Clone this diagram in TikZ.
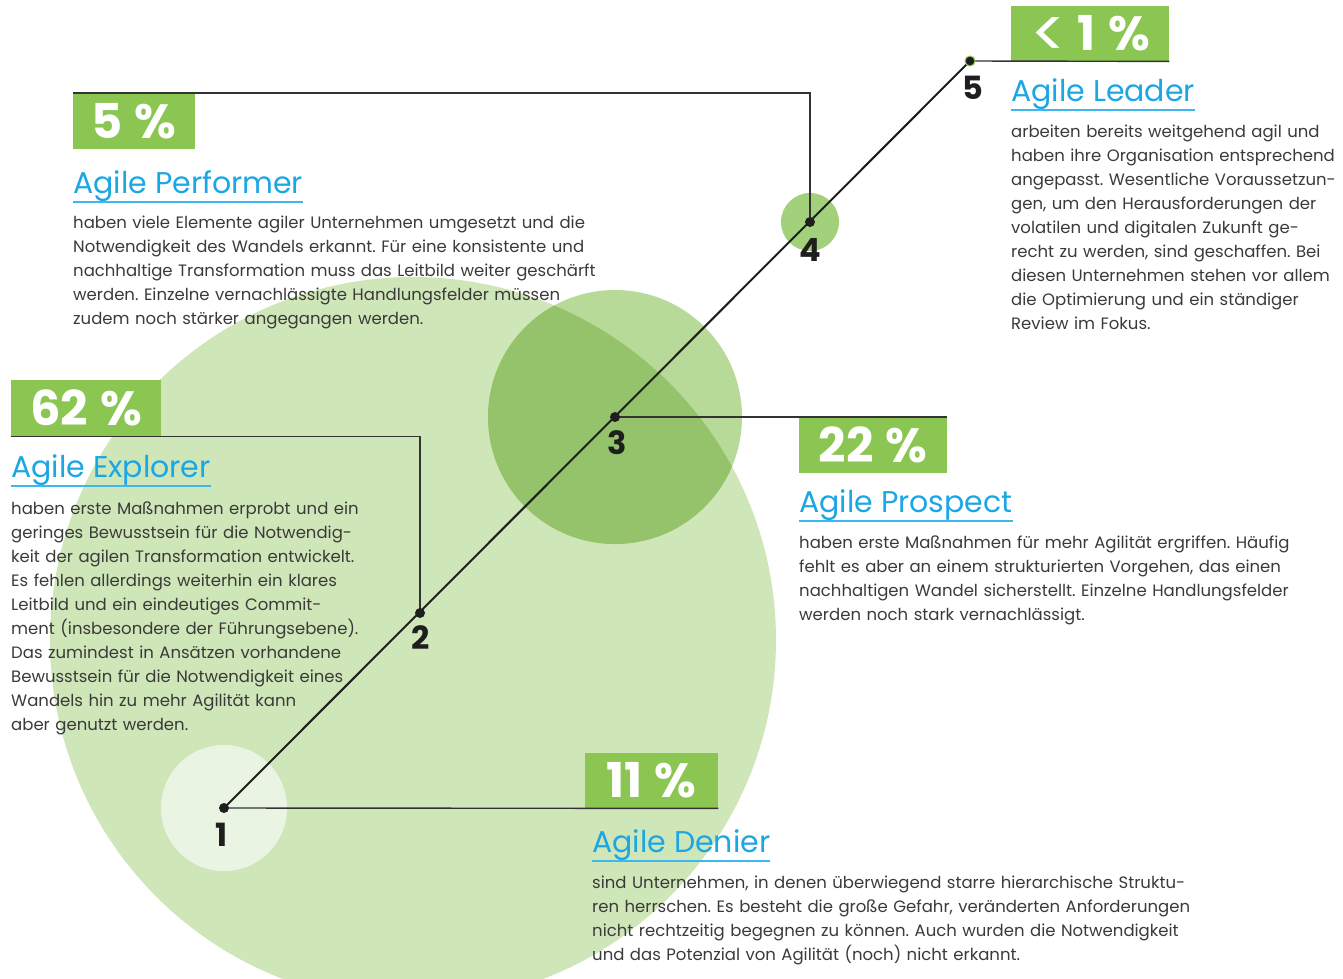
\documentclass[tikz,border=0pt]{standalone}
\usepackage{fontspec}
\usepackage{graphicx}
\setmainfont{Poppins}
\definecolor{bigc}{HTML}{CFE6B9}
\definecolor{midc}{HTML}{B8DA98}
\definecolor{ovc}{HTML}{95C36C}
\definecolor{cone}{HTML}{EAF4E2}
\definecolor{cfour}{HTML}{A3D07A}
\definecolor{boxgreen}{HTML}{8BC653}
\definecolor{titleblue}{HTML}{1BA6E4}
\definecolor{ulblue}{HTML}{3DB8EE}
\definecolor{bodygray}{HTML}{3A3A3A}
\definecolor{numblack}{HTML}{1E1E1E}
\definecolor{lineg}{HTML}{333333}
\frenchspacing
\begin{document}
\begin{tikzpicture}[x=1pt,y=-1pt,
  body/.style={anchor=base west, align=left, inner sep=0pt, text width=620pt, text=bodygray, font=\frenchspacing\fontsize{16.5}{24}\selectfont},
  title/.style={anchor=base west, inner sep=0pt, text=titleblue, font=\fontsize{30}{36}\selectfont},
  uline/.style={draw=ulblue, line width=1.5pt},
  pct/.style={anchor=north west, fill=boxgreen, text=white, inner sep=0pt, font=\bfseries\fontsize{48}{50}\selectfont},
  num/.style={text=numblack, font=\bfseries\fontsize{32}{32}\selectfont, inner sep=0pt},
  conn/.style={draw=lineg, line width=1.4pt},
  diag/.style={draw=numblack, line width=2pt},
  dot/.style={circle, fill=numblack, inner sep=0pt, minimum size=10pt}
]
\useasboundingbox (0,0) rectangle (1343,978);
% circles
\fill[bigc] (413,640) circle (363);
\fill[midc] (615,417) circle (127);
\begin{scope}
  \clip (413,640) circle (363);
  \fill[ovc] (615,417) circle (127);
\end{scope}
\fill[cone] (224,808) circle (63);
\fill[cfour] (810,222) circle (29);

% stage points
\coordinate (p1) at (224,808);
\coordinate (p2) at (420,613);
\coordinate (p3) at (615,417);
\coordinate (p4) at (810,222);
\coordinate (p5) at (970,61);

% percentage boxes
\node[pct, minimum width=122pt, minimum height=56pt] (b5) at (73,93) {5\hspace{12pt}\%};
\node[pct, minimum width=150pt, minimum height=56pt] (b62) at (11,380) {62\hspace{12pt}\%};
\node[pct, minimum width=148pt, minimum height=56pt] (b22) at (799,417) {22\hspace{12pt}\%};
\node[pct, minimum width=133pt, minimum height=55pt] (b11) at (585,753) {11\hspace{12pt}\%};
\node[pct, minimum width=158pt, minimum height=55pt] (b1) at (1011,6) {\smash{\raisebox{-7pt}{\mdseries\scalebox{1.4}{<}}}\hspace{10pt}1\hspace{12pt}\%};

% connectors
\draw[conn] (p1) -- (b11.south east);
\draw[conn] (p2) |- (b62.south west);
\draw[conn] (p3) -- (b22.north east);
\draw[conn] (p4) |- (b5.north west);
\draw[conn] (p5) -- (b1.south east);
\draw[diag] (p1) -- (p5);

% dots
\node[dot] (d1) at (p1) {};
\node[dot] (d2) at (p2) {};
\node[dot] (d3) at (p3) {};
\node[dot] (d4) at (p4) {};
\node[dot, draw=boxgreen, line width=1pt] (d5) at (p5) {};

% numbers
\node[num] (n1) at (222,835) {1};
\node[num] (n2) at (421,638) {2};
\node[num] (n3) at (617,443) {3};
\node[num] (n4) at (810,250) {4};
\node[num] (n5) at (973,88) {5};

% titles
\node[title] (t5) at (73,193) {Agile Performer};
\node[title] (t62) at (11,477) {Agile Explorer};
\node[title] (t22) at (799,512) {Agile Prospect};
\node[title] (t11) at (592,852) {Agile Denier};
\node[title] (t1) at (1011,101) {Agile Leader};
\foreach \t in {t5,t62,t22,t11,t1}{
  \draw[uline] ([yshift=-9pt]\t.base west) -- ([yshift=-9pt]\t.base east);
}

% body texts
\node[body] (x5) at (73,228) {haben viele Elemente agiler Unternehmen umgesetzt und die\\
Notwendigkeit des Wandels erkannt. Für eine konsistente und\\
nachhaltige Transformation muss das Leitbild weiter geschärft\\
werden. Einzelne vernachlässigte Handlungsfelder müssen\\
zudem noch stärker angegangen werden.};
\node[body] (x62) at (11,514) {haben erste Maßnahmen erprobt und ein\\
geringes Bewusstsein für die Notwendig-\\
keit der agilen Transformation entwickelt.\\
Es fehlen allerdings weiterhin ein klares\\
Leitbild und ein eindeutiges Commit-\\
ment (insbesondere der Führungsebene).\\
Das zumindest in Ansätzen vorhandene\\
Bewusstsein für die Notwendigkeit eines\\
Wandels hin zu mehr Agilität kann\\
aber genutzt werden.};
\node[body] (x22) at (799,548) {haben erste Maßnahmen für mehr Agilität ergriffen. Häufig\\
fehlt es aber an einem strukturierten Vorgehen, das einen\\
nachhaltigen Wandel sicherstellt. Einzelne Handlungsfelder\\
werden noch stark vernachlässigt.};
\node[body] (x11) at (592,888) {sind Unternehmen, in denen überwiegend starre hierarchische Struktu-\\
ren herrschen. Es besteht die große Gefahr, veränderten Anforderungen\\
nicht rechtzeitig begegnen zu können. Auch wurden die Notwendigkeit\\
und das Potenzial von Agilität (noch) nicht erkannt.};
\node[body] (x1) at (1011,137) {arbeiten bereits weitgehend agil und\\
haben ihre Organisation entsprechend\\
angepasst. Wesentliche Voraussetzun-\\
gen, um den Herausforderungen der\\
volatilen und digitalen Zukunft ge-\\
recht zu werden, sind geschaffen. Bei\\
diesen Unternehmen stehen vor allem\\
die Optimierung und ein ständiger\\
Review im Fokus.};
\end{tikzpicture}
\end{document}
